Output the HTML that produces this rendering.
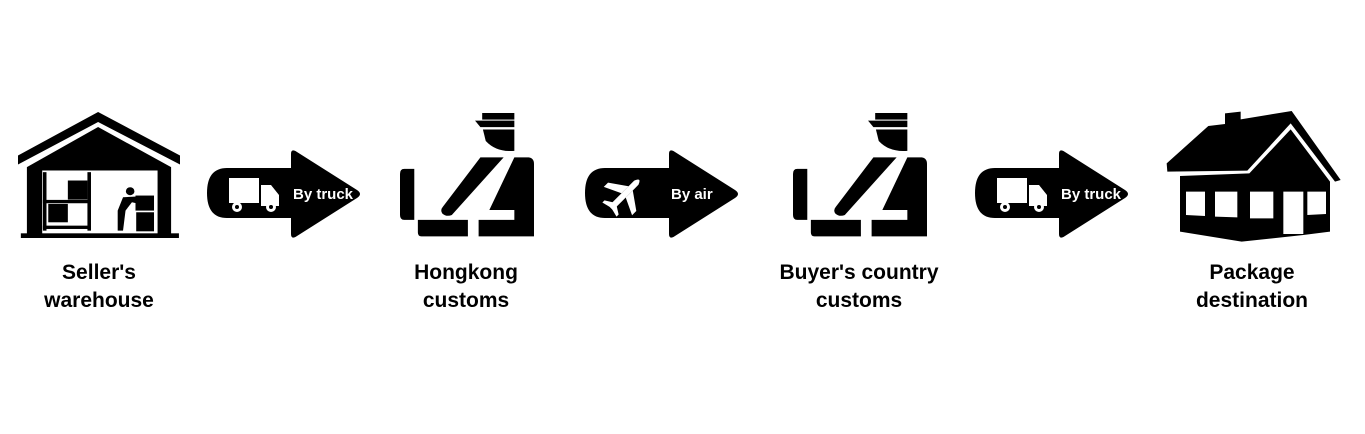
<!DOCTYPE html>
<html><head><meta charset="utf-8"><style>
body{margin:0;width:1365px;height:434px;background:#fff;position:relative;overflow:hidden;font-family:"Liberation Sans",sans-serif}
svg{position:absolute}
.l{position:absolute;width:240px;text-align:center;font-size:21px;font-weight:bold;line-height:28px;color:#000}
</style></head><body>

<!-- Warehouse -->
<svg style="left:18px;top:112px" width="162" height="126" viewBox="50 35 455 377" preserveAspectRatio="none">
<polygon points="50,165 275,35 505,165 505,192 275,65 50,192" fill="#000"/>
<polygon points="75,200 275,80 480,200 480,400 75,400" fill="#000"/>
<rect x="118" y="210" width="324" height="190" fill="#fff"/>
<rect x="58" y="398" width="444" height="14" fill="#000"/>
<rect x="120" y="215" width="10" height="175" fill="#000"/>
<rect x="245" y="215" width="10" height="175" fill="#000"/>
<rect x="120" y="298" width="135" height="10" fill="#000"/>
<rect x="120" y="375" width="135" height="10" fill="#000"/>
<rect x="190" y="240" width="55" height="57" fill="#000"/>
<rect x="135" y="310" width="55" height="55" fill="#000"/>
<circle cx="365" cy="272" r="12" fill="#000"/>
<path d="M345,290 L385,288 L395,300 L390,310 L370,305 L352,330 L345,390 L330,390 L330,330 Z" fill="#000"/>
<rect x="380" y="285" width="52" height="45" fill="#000"/>
<rect x="382" y="335" width="50" height="57" fill="#000"/>
</svg>

<svg style="left:207px;top:150px" width="156" height="88" viewBox="0 0 156 88">
<path d="M20,18 H84 V4 Q84,-2 90,2 L150,40 Q156,44 150,48 L90,86 Q84,90 84,84 V68 H20 Q0,68 0,43 Q0,18 20,18 Z" fill="#000"/>
<g fill="#fff"><rect x="22" y="28" width="30" height="25"/><path d="M54,35 H64 L72,45 V56 H54 Z"/><circle cx="30" cy="57" r="5"/><circle cx="64" cy="57" r="5"/></g>
<circle cx="30" cy="57" r="2" fill="#000"/><circle cx="64" cy="57" r="2" fill="#000"/>
<text x="86" y="49" fill="#fff" font-family="Liberation Sans" font-weight="bold" font-size="15">By truck</text>
</svg>

<svg style="left:585px;top:150px" width="156" height="88" viewBox="0 0 156 88">
<path d="M20,18 H84 V4 Q84,-2 90,2 L150,40 Q156,44 150,48 L90,86 Q84,90 84,84 V68 H20 Q0,68 0,43 Q0,18 20,18 Z" fill="#000"/>
<g transform="translate(40,44) rotate(-45)" fill="#fff">
<path d="M-20,-3 L16,-3 Q24,0 16,3 L-20,3 Z"/>
<path d="M-2,-3 L8,-3 L-4,-20 L-10,-20 Z"/><path d="M-2,3 L8,3 L-4,20 L-10,20 Z"/>
<path d="M-20,-2 L-14,-2 L-19,-10 L-22,-10 Z"/><path d="M-20,2 L-14,2 L-19,10 L-22,10 Z"/>
</g>
<text x="86" y="49" fill="#fff" font-family="Liberation Sans" font-weight="bold" font-size="15">By air</text>
</svg>

<svg style="left:975px;top:150px" width="156" height="88" viewBox="0 0 156 88">
<path d="M20,18 H84 V4 Q84,-2 90,2 L150,40 Q156,44 150,48 L90,86 Q84,90 84,84 V68 H20 Q0,68 0,43 Q0,18 20,18 Z" fill="#000"/>
<g fill="#fff"><rect x="22" y="28" width="30" height="25"/><path d="M54,35 H64 L72,45 V56 H54 Z"/><circle cx="30" cy="57" r="5"/><circle cx="64" cy="57" r="5"/></g>
<circle cx="30" cy="57" r="2" fill="#000"/><circle cx="64" cy="57" r="2" fill="#000"/>
<text x="86" y="49" fill="#fff" font-family="Liberation Sans" font-weight="bold" font-size="15">By truck</text>
</svg>

<svg style="left:400px;top:113px" width="134" height="124" viewBox="1120 35 375 377" preserveAspectRatio="none">
<g fill="#000">
<rect x="1350" y="35" width="90" height="20"/>
<path d="M1330,58 H1440 V78 H1345 Z"/>
<path d="M1352,85 H1440 V150 Q1390,155 1360,120 Z"/>
<path d="M1132,205 H1160 V360 H1132 Q1120,360 1120,345 V220 Q1120,205 1132,205 Z"/>
<path d="M1170,360 H1310 V410 H1180 Q1170,410 1170,398 Z"/>
<path d="M1345,170 H1410 L1265,345 Q1250,352 1238,340 Q1232,330 1240,320 Z"/>
<path d="M1440,170 H1480 Q1495,172 1495,190 V410 H1340 V360 H1440 V330 H1370 Z"/>
</g></svg>
<svg style="left:793px;top:113px" width="134" height="124" viewBox="1120 35 375 377" preserveAspectRatio="none">
<g fill="#000">
<rect x="1350" y="35" width="90" height="20"/>
<path d="M1330,58 H1440 V78 H1345 Z"/>
<path d="M1352,85 H1440 V150 Q1390,155 1360,120 Z"/>
<path d="M1132,205 H1160 V360 H1132 Q1120,360 1120,345 V220 Q1120,205 1132,205 Z"/>
<path d="M1170,360 H1310 V410 H1180 Q1170,410 1170,398 Z"/>
<path d="M1345,170 H1410 L1265,345 Q1250,352 1238,340 Q1232,330 1240,320 Z"/>
<path d="M1440,170 H1480 Q1495,172 1495,190 V410 H1340 V360 H1440 V330 H1370 Z"/>
</g></svg>

<svg style="left:1150px;top:100px" width="210" height="150" viewBox="0 0 630 450">
<polygon points="50,190 175,78 225,72 225,40 272,35 272,58 425,33 572,240 555,245 422,70 292,212 52,215" fill="#000"/>
<polygon points="90,228 298,220 422,88 540,245 540,395 460,405 275,425 90,395" fill="#000"/>
<g fill="#fff">
<polygon points="108,275 165,275 165,348 108,345"/>
<polygon points="195,275 262,275 262,352 195,350"/>
<polygon points="300,275 370,275 370,355 300,355"/>
<polygon points="400,275 460,275 460,402 400,402"/>
<polygon points="472,275 528,275 528,342 472,345"/>
</g></svg>

<div class="l" style="left:-21px;top:259px">Seller's<br>warehouse</div>
<div class="l" style="left:346px;top:259px">Hongkong<br>customs</div>
<div class="l" style="left:739px;top:259px">Buyer's country<br>customs</div>
<div class="l" style="left:1132px;top:259px">Package<br>destination</div>
</body></html>
